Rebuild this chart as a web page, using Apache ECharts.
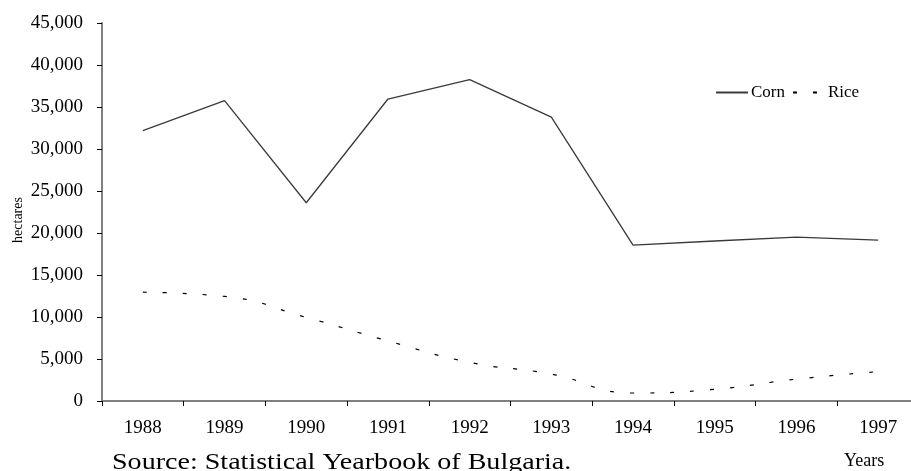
<!DOCTYPE html>
<html>
<head>
<meta charset="utf-8">
<script src="https://cdn.jsdelivr.net/npm/echarts@6/dist/echarts.min.js"></script>
<style>html,body{margin:0;padding:0;background:#fff}#c{width:911px;height:471px}</style>
</head>
<body>
<div id="c"></div>
<script>
var years = ['1988','1989','1990','1991','1992','1993','1994','1995','1996','1997'];
var corn = [32200, 35770, 23600, 35950, 38250, 33800, 18550, 19050, 19500, 19150];
var rice = [12950, 12450, 9950, 7150, 4600, 3200, 950, 1400, 2600, 3500];
var yTicks = [0, 5000, 10000, 15000, 20000, 25000, 30000, 35000, 40000, 45000];

var serif = '"Liberation Serif", "DejaVu Serif", serif';
var chart = echarts.init(document.getElementById('c'));
chart.setOption({
  animation: false,
  backgroundColor: '#fff',
  textStyle: { fontFamily: serif },
  grid: { left: 102, width: 817, top: 23, bottom: 70, outerBoundsMode: 'none', containLabel: false },
  legend: {
    left: 715, top: 84, padding: 0,
    itemWidth: 32, itemHeight: 10, itemGap: 7,
    itemStyle: { opacity: 0 },
    textStyle: { fontFamily: serif, fontSize: 17, color: '#000', padding: [0, 0, 0, -2] },
    data: [{ name: 'Corn' }, { name: 'Rice' }]
  },
  xAxis: {
    type: 'category',
    data: years,
    boundaryGap: true,
    axisLine: { lineStyle: { color: '#808080', width: 2 } },
    axisTick: { show: true, length: 5, lineStyle: { color: '#000', width: 1 } },
    axisLabel: { color: '#000', fontSize: 19, fontFamily: serif, margin: 18 }
  },
  yAxis: {
    type: 'value',
    min: yTicks[0], max: yTicks[yTicks.length - 1], interval: 5000,
    splitLine: { show: false },
    axisLine: { show: true, lineStyle: { color: '#808080', width: 2 } },
    axisTick: { show: true, length: 5, lineStyle: { color: '#000', width: 1 } },
    axisLabel: {
      color: '#000', fontSize: 19, fontFamily: serif, margin: 19,
      formatter: function (v) { return v.toLocaleString('en-US'); }
    }
  },
  graphic: [
    { type: 'text', x: 18, y: 220, rotation: Math.PI / 2,
      style: { text: 'hectares', font: '14px ' + serif, fill: '#000', align: 'center', verticalAlign: 'middle' } },
    { type: 'text', x: 112, y: 451, scaleX: 1.22,
      style: { text: 'Source: Statistical Yearbook of Bulgaria.', font: '23px ' + serif, fill: '#000', verticalAlign: 'top' } },
    { type: 'text', x: 844, y: 452,
      style: { text: 'Years', font: '18px ' + serif, fill: '#000', verticalAlign: 'top' } }
  ],
  series: [
    { name: 'Corn', type: 'line', data: corn, showSymbol: false, symbol: 'none',
      lineStyle: { color: '#3a3a3a', width: 1.3 }, itemStyle: { color: '#3a3a3a' } },
    { name: 'Rice', type: 'line', data: rice, showSymbol: false, symbol: 'none', smooth: 0.5,
      lineStyle: { color: '#000', width: 1.2, type: [4, 16] }, itemStyle: { color: '#000' } }
  ]
});
</script>
</body>
</html>
